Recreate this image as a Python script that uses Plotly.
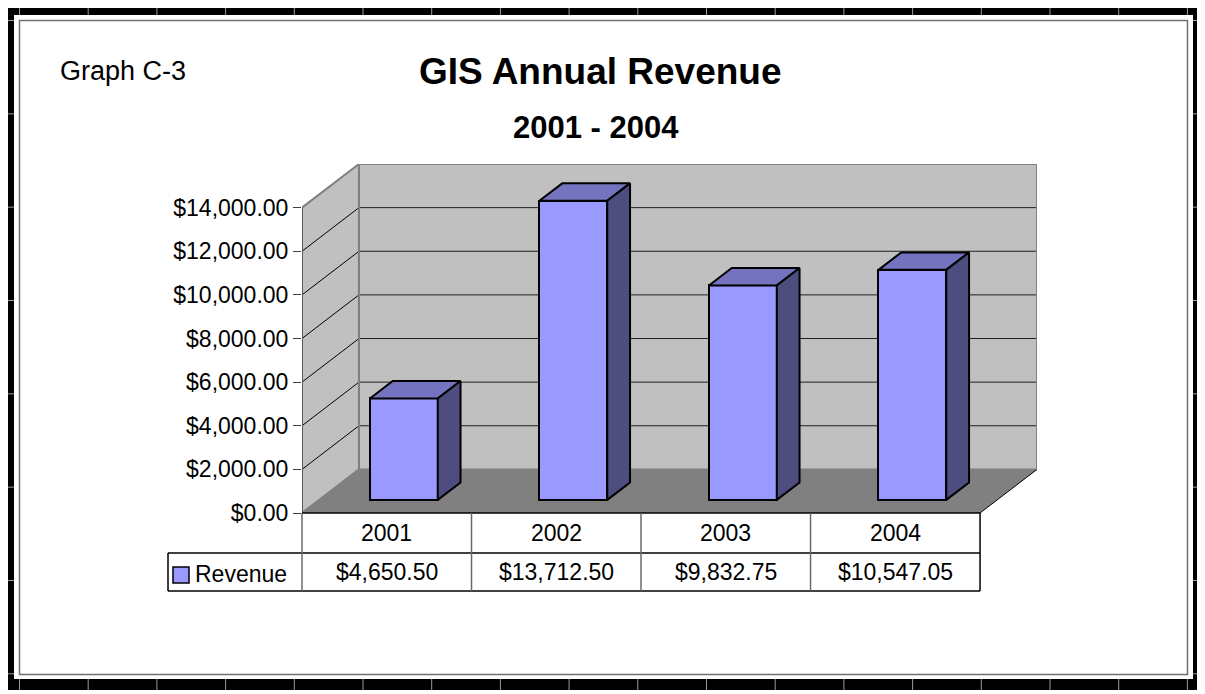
import plotly.graph_objects as go

# ---------------- data ----------------
categories = ["2001", "2002", "2003", "2004"]
revenue = [4650.50, 13712.50, 9832.75, 10547.05]
revenue_labels = ["$4,650.50", "$13,712.50", "$9,832.75", "$10,547.05"]
y_ticks = [0, 2000, 4000, 6000, 8000, 10000, 12000, 14000]
y_tick_labels = ["$0.00", "$2,000.00", "$4,000.00", "$6,000.00",
                 "$8,000.00", "$10,000.00", "$12,000.00", "$14,000.00"]
series_name = "Revenue"
title_text = "GIS Annual Revenue"
subtitle_text = "2001 - 2004"
graph_label = "Graph C-3"

# ---------------- layout constants ----------------
OFF = 8                                    # page body margin compensation
W, H = 1205 - OFF, 694 - OFF
PL, PR, PT, PB = 302 - OFF, 1037 - OFF, 164 - OFF, 513 - OFF   # plot area (px)
DX, DY = 0.336, 2000                       # 3-D depth vector (data units)
XMIN, XMAX = -0.5, len(categories) - 0.5 + DX
YTOP = max(y_ticks)
YMAX = YTOP + DY
BAR_W = 0.4
F0, F1 = 0.3, 0.7                          # bar depth fractions

FONT = "Liberation Sans, Arial, sans-serif"
FRONT = "#9999FF"
TOP = "#7373BF"
SIDE = "#4D4D80"
WALL = "#C0C0C0"
FLOOR = "#808080"


def pxx(p):
    return (p - OFF - PL) / (PR - PL)


def pxy(p):
    return (PB - (p - OFF)) / (PB - PT)


def dx2p(x):
    return (x - XMIN) / (XMAX - XMIN)


def path(pts):
    return "M " + " L ".join(f"{x},{y}" for x, y in pts) + " Z"


fig = go.Figure()

# ---------------- bars (front faces) ----------------
xs = list(range(len(categories)))
fig.add_trace(go.Bar(
    x=[i + F0 * DX for i in xs], y=revenue, base=F0 * DY, width=BAR_W,
    marker=dict(color=FRONT, line=dict(color="black", width=2)),
    hoverinfo="skip", showlegend=False,
))

# top and side faces
tx, ty, sx, sy = [], [], [], []
for i, v in zip(xs, revenue):
    L = i - BAR_W / 2 + F0 * DX
    R = i + BAR_W / 2 + F0 * DX
    d = (F1 - F0)
    yb = F0 * DY
    yt = v + F0 * DY
    tx += [L, R, R + d * DX, L + d * DX, L, None]
    ty += [yt, yt, yt + d * DY, yt + d * DY, yt, None]
    sx += [R, R, R + d * DX, R + d * DX, R, None]
    sy += [yb, yt, yt + d * DY, yb + d * DY, yb, None]
fig.add_trace(go.Scatter(x=tx, y=ty, mode="lines", fill="toself", fillcolor=TOP,
                         line=dict(color="black", width=2), hoverinfo="skip",
                         showlegend=False))
fig.add_trace(go.Scatter(x=sx, y=sy, mode="lines", fill="toself", fillcolor=SIDE,
                         line=dict(color="black", width=2), hoverinfo="skip",
                         showlegend=False))

shapes = []
# ---------------- walls / floor ----------------
x0, x1 = -0.5, len(categories) - 0.5
shapes.append(dict(type="path", xref="x", yref="y", layer="below",
                   path=path([(x0 + DX, DY), (x1 + DX, DY), (x1 + DX, YTOP + DY), (x0 + DX, YTOP + DY)]),
                   fillcolor=WALL, line=dict(color="#808080", width=2)))
shapes.append(dict(type="path", xref="x", yref="y", layer="below",
                   path=path([(x0, 0), (x0, YTOP), (x0 + DX, YTOP + DY), (x0 + DX, DY)]),
                   fillcolor=WALL, line=dict(color="#808080", width=2)))
shapes.append(dict(type="path", xref="x", yref="y", layer="below",
                   path=path([(x0, 0), (x1, 0), (x1 + DX, DY), (x0 + DX, DY)]),
                   fillcolor=FLOOR, line=dict(width=0)))
# floor edge
shapes.append(dict(type="line", xref="x", yref="y", layer="below",
                   x0=x1, y0=0, x1=x1 + DX, y1=DY, line=dict(color="black", width=1)))
# gridlines
for v in y_ticks[1:-1]:
    shapes.append(dict(type="line", xref="x", yref="y", layer="below",
                       x0=x0, y0=v, x1=x0 + DX, y1=v + DY, line=dict(color="black", width=1)))
    shapes.append(dict(type="line", xref="x", yref="y", layer="below",
                       x0=x0 + DX, y0=v + DY, x1=x1 + DX, y1=v + DY,
                       line=dict(color="#202020", width=1)))
# back wall edges redrawn on top of gridlines
shapes.append(dict(type="line", xref="x", yref="y", layer="below",
                   x0=x0 + DX, y0=DY, x1=x0 + DX, y1=YTOP + DY, line=dict(color="#808080", width=2)))
shapes.append(dict(type="line", xref="x", yref="y", layer="below",
                   x0=x1 + DX, y0=DY, x1=x1 + DX, y1=YTOP + DY, line=dict(color="#808080", width=2)))
# front-left edge (axis line)
shapes.append(dict(type="line", xref="x", yref="y", layer="below",
                   x0=x0, y0=0, x1=x0, y1=YTOP, line=dict(color="#5a5a5a", width=2)))

# ---------------- data table ----------------
R0, R1, R2 = 513, 553, 591
LEG_L = 168
xl = dx2p(x0)
xr = dx2p(x1)
shapes.append(dict(type="line", xref="paper", yref="paper", x0=xl, x1=xr,
                   y0=pxy(R0), y1=pxy(R0), line=dict(color="black", width=1.5)))
shapes.append(dict(type="line", xref="paper", yref="paper", x0=pxx(LEG_L), x1=xr,
                   y0=pxy(R1), y1=pxy(R1), line=dict(color="black", width=1.5)))
shapes.append(dict(type="line", xref="paper", yref="paper", x0=pxx(LEG_L), x1=xr,
                   y0=pxy(R2), y1=pxy(R2), line=dict(color="black", width=1.5)))
shapes.append(dict(type="line", xref="paper", yref="paper", x0=pxx(LEG_L), x1=pxx(LEG_L),
                   y0=pxy(R1), y1=pxy(R2), line=dict(color="black", width=1.5)))
for k in range(len(categories) + 1):
    xb = dx2p(k - 0.5)
    col = "black" if k == len(categories) else "#6a6a6a"
    shapes.append(dict(type="line", xref="paper", yref="paper", x0=xb, x1=xb,
                       y0=pxy(R0), y1=pxy(R2), line=dict(color=col, width=1.5)))
# legend key
shapes.append(dict(type="rect", xref="paper", yref="paper",
                   x0=pxx(173), x1=pxx(189), y0=pxy(567), y1=pxy(583),
                   fillcolor=FRONT, line=dict(color="black", width=1.5)))

annotations = []


def ann(text, x, y, size, bold=False, xanchor="center"):
    annotations.append(dict(text=f"<b>{text}</b>" if bold else text,
                            x=x, y=y, xref="paper", yref="paper", xanchor=xanchor,
                            yanchor="middle", showarrow=False,
                            font=dict(family=FONT, size=size, color="black")))


for i, (c, lab) in enumerate(zip(categories, revenue_labels)):
    ann(c, dx2p(i), pxy(533), 23)
    ann(lab, dx2p(i), pxy(572), 23)
ann(series_name, pxx(193), pxy(574), 23, xanchor="left")

ann(title_text, pxx(600), pxy(71), 37, bold=True)
ann(subtitle_text, pxx(596), pxy(127), 31, bold=True)
ann(graph_label, pxx(58), pxy(71), 27, xanchor="left")


# ---------------- frame ----------------
def prect(x0p, y0p, x1p, y1p, fill=None, line=None, lw=0):
    d = dict(type="rect", xref="paper", yref="paper", layer="above",
             x0=pxx(x0p), x1=pxx(x1p), y0=pxy(y0p), y1=pxy(y1p))
    d["fillcolor"] = fill if fill else "rgba(0,0,0,0)"
    d["line"] = dict(color=line if line else "rgba(0,0,0,0)", width=lw)
    return d


def pline(x0p, y0p, x1p, y1p, color, lw=1):
    return dict(type="line", xref="paper", yref="paper", layer="above",
                x0=pxx(x0p), x1=pxx(x1p), y0=pxy(y0p), y1=pxy(y1p),
                line=dict(color=color, width=lw))


shapes.append(prect(3, 5, 1202, 15, fill="black"))
shapes.append(prect(3, 679, 1202, 690, fill="black"))
shapes.append(prect(3, 5, 14, 690, fill="black"))
shapes.append(prect(1193, 5, 1202, 690, fill="black"))
shapes.append(prect(19.5, 20.5, 1187.5, 674.5, line="#707070", lw=1.5))
# spreadsheet grid lines showing through the frame
gx = 19.5
while gx < 1200:
    shapes.append(pline(gx, 5, gx, 15, "#9a9a9a", 1))
    shapes.append(pline(gx, 679, gx, 690, "#9a9a9a", 1))
    gx += 68.7
gy = 20.5
while gy < 690:
    shapes.append(pline(3, gy, 14, gy, "#9a9a9a", 1))
    shapes.append(pline(1193, gy, 1202, gy, "#9a9a9a", 1))
    gy += 93.33

fig.update_layout(
    width=W, height=H,
    margin=dict(l=PL, r=W - PR, t=PT, b=H - PB, pad=0),
    paper_bgcolor="white", plot_bgcolor="white",
    showlegend=False,
    shapes=shapes, annotations=annotations,
    xaxis=dict(range=[XMIN, XMAX], visible=False, fixedrange=True),
    yaxis=dict(range=[0, YMAX], tickvals=y_ticks, ticktext=y_tick_labels,
               ticks="outside", ticklen=8, tickwidth=1, tickcolor="#404040",
               showgrid=False, zeroline=False, showline=False, fixedrange=True,
               tickfont=dict(family=FONT, size=23, color="black")),
    bargap=0,
)

fig.write_html("out.html")
